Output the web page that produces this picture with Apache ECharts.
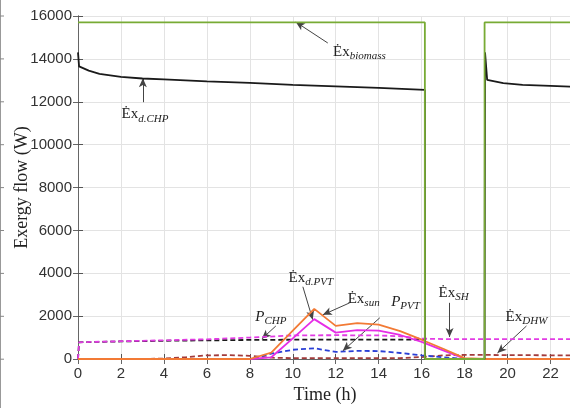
<!DOCTYPE html>
<html>
<head>
<meta charset="utf-8">
<script src="https://cdn.jsdelivr.net/npm/echarts@6/dist/echarts.min.js"></script>
<style>
  html, body { margin: 0; padding: 0; background: #fff; }
  #chart { width: 570px; height: 408px; }
</style>
</head>
<body>
<div id="chart"></div>
<script>
// axis ticks
const yTicks = [0, 2000, 4000, 6000, 8000, 10000, 12000, 14000, 16000];
const xTickStep = 2;

// hourly series (h)
const hours = [0, 1, 2, 3, 4, 5, 6, 7, 8, 9, 10, 11, 12, 13, 14, 15, 16, 17, 18, 19, 20, 21, 22, 23];
const exSun  = [0, 0, 0, 0, 0, 0, 0, 0, 0, 300, 1320, 2340, 1545, 1670, 1600, 1300, 900, 480, 40, 0, 0, 0, 0, 0];
const exDPvt = [0, 0, 0, 0, 0, 0, 0, 0, 0, 80, 960, 1860, 1230, 1350, 1320, 1120, 800, 400, 20, 0, 0, 0, 0, 0];
const pPvt   = [0, 0, 0, 0, 0, 0, 0, 0, 0, 250, 430, 500, 330, 380, 370, 280, 170, 80, 0, 0, 0, 0, 0, 0];
const exDhw  = [0, 0, 0, 0, 20, 80, 170, 180, 150, 60, 40, 40, 40, 40, 40, 40, 90, 170, 190, 190, 180, 180, 170, 170];

// biomass boiler / CHP (on-off switching)
const tBiomass  = [0, 16.15, 16.15, 18.93, 18.93, 23];
const exBiomass = [15700, 15700, 0, 0, 15700, 15700];

const tDChp  = [0, 0.05, 0.5, 1, 2, 3, 4, 6, 8, 10, 12, 14, 16.15, 16.15, 18.93, 18.95, 19.05, 19.8, 20.7, 22, 23];
const exDChp = [14300, 13650, 13450, 13300, 13160, 13085, 13040, 12950, 12880, 12790, 12720, 12650, 12550, 0, 0, 14300, 13020, 12870, 12790, 12740, 12700];

const tPChp = [0, 0.05, 2, 4, 6, 8, 10, 12, 14, 16.15, 16.15];
const pChp  = [0, 780, 820, 850, 870, 890, 900, 900, 900, 900, 0];

const tSh  = [0, 0.05, 2, 4, 6, 8, 10, 12, 14, 15, 16, 17, 18, 19, 20, 21, 22, 23];
const exSh = [0, 780, 830, 870, 920, 1000, 1100, 1110, 1100, 1060, 950, 930, 930, 930, 930, 930, 930, 930];

// annotation labels [t, value, text] and arrows [t1, v1, t2, v2]
const notes = [
  [3.12, 11420, '{a|Ėx}{s|d.CHP}'],
  [13.1, 14320, '{a|Ėx}{s|biomass}'],
  [8.98, 1970, '{p|P}{s|CHP}'],
  [10.84, 3790, '{a|Ėx}{s|d.PVT}'],
  [13.3, 2810, '{a|Ėx}{s|sun}'],
  [15.25, 2670, '{p|P}{s|PVT}'],
  [17.49, 3090, '{a|Ėx}{s|SH}'],
  [20.88, 1970, '{a|Ėx}{s|DHW}']
];
const arrows = [
  [3.02, 11980, 3.02, 13100],
  [11.63, 14740, 10.14, 15720],
  [9.21, 1540, 8.56, 940],
  [10.47, 3370, 10.93, 1830],
  [12.65, 2620, 11.4, 2060],
  [14.05, 1920, 12.33, 380],
  [17.3, 2620, 17.3, 1030],
  [20.88, 1540, 19.53, 280]
];

function pairs(xs, ys) {
  return xs.map((x, i) => [x, ys[i]]);
}

let myChart = echarts.init(document.getElementById('chart'), null, { renderer: 'canvas' });

const serif = 'Liberation Serif';
const richText = {
  a: { fontFamily: serif, fontSize: 15, color: '#222', lineHeight: 20, verticalAlign: 'middle' },
  p: { fontFamily: serif, fontSize: 15, fontStyle: 'italic', color: '#222', lineHeight: 20, verticalAlign: 'middle' },
  s: { fontFamily: serif, fontSize: 11, fontStyle: 'italic', color: '#222', lineHeight: 11, verticalAlign: 'bottom' }
};

function lineSeries(name, data, color, dashed, z) {
  return {
    name: name,
    type: 'line',
    data: data,
    showSymbol: false,
    symbol: 'none',
    z: z,
    lineStyle: { color: color, width: 1.8, type: dashed ? [5, 3] : 'solid' },
    silent: true
  };
}

const tickLines = [];
for (let i = 0; i < yTicks.length; i++) {
  const y = 16 + i * 42.9;
  tickLines.push({ type: 'line', shape: { x1: 0, y1: y, x2: 4, y2: y }, style: { stroke: '#888', lineWidth: 1 } });
}

let option = {
  animation: false,
  backgroundColor: '#fff',
  grid: { left: 78, right: -2, top: 16, bottom: 49, containLabel: false, outerBoundsMode: 'none' },
  graphic: [
    { type: 'line', shape: { x1: 0.5, y1: 0, x2: 0.5, y2: 408 }, style: { stroke: '#999', lineWidth: 1 } }
  ].concat(tickLines),
  xAxis: [
    {
      type: 'value',
      min: 0,
      max: 23,
      interval: xTickStep,
      name: 'Time (h)',
      nameLocation: 'middle',
      nameGap: 26,
      nameTextStyle: { fontFamily: serif, fontSize: 18, color: '#222' },
      axisLine: { show: true, lineStyle: { color: '#555', width: 1 } },
      axisTick: { show: true, inside: true, length: 5, lineStyle: { color: '#555' } },
      axisLabel: { fontFamily: 'Liberation Sans', fontSize: 15, color: '#333', margin: 7, showMaxLabel: false },
      splitLine: { show: true, lineStyle: { color: '#e3e3e3', width: 1 } }
    },
    {
      type: 'value',
      position: 'top',
      min: 0,
      max: 23,
      interval: xTickStep,
      axisLine: { show: true, lineStyle: { color: '#666', width: 1 } },
      axisTick: { show: true, inside: true, length: 5, lineStyle: { color: '#666' } },
      axisLabel: { show: false },
      splitLine: { show: false }
    }
  ],
  yAxis: [
    {
      type: 'value',
      min: 0,
      max: 16000,
      interval: 2000,
      name: 'Exergy flow (W)',
      nameLocation: 'middle',
      nameGap: 47,
      nameMoveOverlap: false,
      nameTextStyle: { fontFamily: serif, fontSize: 18, color: '#222' },
      axisLine: { show: true, lineStyle: { color: '#555', width: 1 } },
      axisTick: { show: true, inside: true, length: 5, lineStyle: { color: '#555' } },
      axisLabel: { fontFamily: 'Liberation Sans', fontSize: 15, color: '#333', margin: 6, formatter: v => String(v) },
      splitLine: { show: true, lineStyle: { color: '#e3e3e3', width: 1 } }
    },
    {
      type: 'value',
      position: 'right',
      min: 0,
      max: 16000,
      interval: 2000,
      axisLine: { show: true, lineStyle: { color: '#666', width: 1 } },
      axisTick: { show: true, inside: true, length: 5, lineStyle: { color: '#666' } },
      axisLabel: { show: false },
      splitLine: { show: false }
    }
  ],
  series: [
    lineSeries('Ėx_DHW', pairs(hours, exDhw), '#a33b3b', true, 2),
    lineSeries('P_PVT', pairs(hours, pPvt), '#2a3fd6', true, 3),
    lineSeries('P_CHP', pairs(tPChp, pChp), '#1a1a1a', true, 4),
    lineSeries('Ėx_SH', pairs(tSh, exSh), '#e23be4', true, 5),
    lineSeries('Ėx_d,PVT', pairs(hours, exDPvt), '#e62de6', false, 6),
    lineSeries('Ėx_sun', pairs(hours, exSun), '#f27a35', false, 7),
    lineSeries('Ėx_d,CHP', pairs(tDChp, exDChp), '#1a1a1a', false, 8),
    Object.assign(lineSeries('Ėx_biomass', pairs(tBiomass, exBiomass), '#78ab35', false, 9), {
      markLine: {
        silent: true,
        symbol: ['none', 'arrow'],
        symbolSize: [6, 9],
        label: { show: false },
        lineStyle: { color: '#444', width: 1, type: 'solid' },
        data: arrows.map(a => [{ coord: [a[0], a[1]] }, { coord: [a[2], a[3]] }])
      },
      markPoint: {
        silent: true,
        symbol: 'circle',
        symbolSize: 0,
        data: notes.map(n => ({
          coord: [n[0], n[1]],
          label: { show: true, position: 'inside', formatter: n[2], rich: richText }
        }))
      }
    })
  ]
};
myChart.setOption(option);
</script>
</body>
</html>
